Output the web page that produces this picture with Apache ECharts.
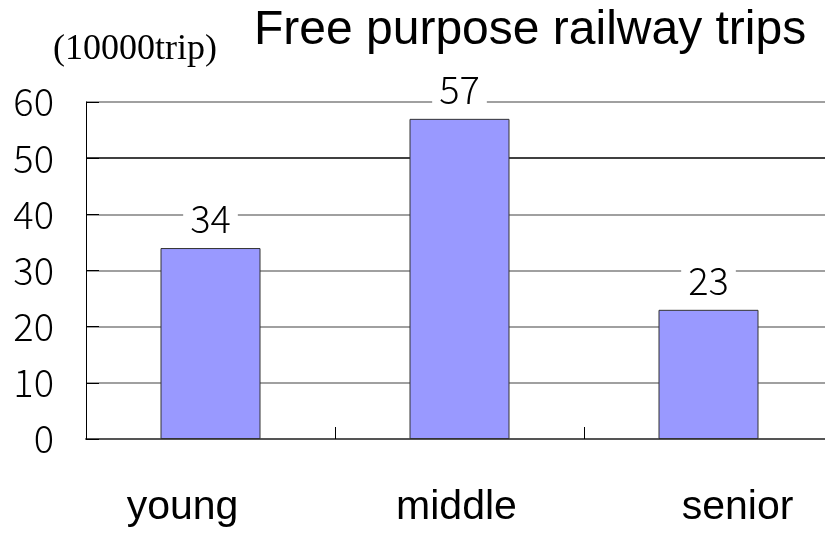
<!DOCTYPE html>
<html>
<head>
<meta charset="utf-8">
<script src="https://cdn.jsdelivr.net/npm/echarts@6/dist/echarts.min.js"></script>
<style>
  html, body { margin: 0; padding: 0; background: #ffffff; overflow: hidden; }
  /* the plot area runs slightly past the right edge of the window */
  #chart { width: 833px; height: 535px; }
</style>
</head>
<body>
<div id="chart"></div>
<script>
// Trips made by rail for free purposes, by age group (unit: 10,000 trips)
const categories = ['young', 'middle', 'senior'];
const trips = [34, 57, 23];
const yTicks = [0, 10, 20, 30, 40, 50, 60];

const titleText = 'Free purpose railway trips';
const unitText = '(10000trip)';

// per-category horizontal nudge of the group label (px, negative = left)
const labelShift = [-28, -3, 29];

const gothic = '"Noto Sans CJK JP", "Noto Sans", sans-serif';
const gridColors = yTicks.map(v => (v === 50 ? '#000000' : '#808080'));

const chart = echarts.init(document.getElementById('chart'), null, { renderer: 'canvas' });

chart.setOption({
  animation: false,
  backgroundColor: '#ffffff',
  title: [
    {
      text: titleText,
      left: 249,
      top: 2,
      textStyle: { fontFamily: '"Liberation Sans", Arial, sans-serif', fontSize: 48, fontWeight: 'normal', color: '#000000' }
    },
    {
      text: unitText,
      left: 48,
      top: 27,
      textStyle: { fontFamily: '"Liberation Serif", "Times New Roman", serif', fontSize: 36, fontWeight: 'normal', color: '#000000' }
    }
  ],
  grid: { left: 86, right: 0, top: 102, bottom: 96, containLabel: false },
  xAxis: {
    type: 'category',
    data: categories.map((c, i) => ({
      value: c,
      textStyle: {
        padding: labelShift[i] < 0 ? [0, -2 * labelShift[i], 0, 0] : [0, 0, 0, 2 * labelShift[i]]
      }
    })),
    boundaryGap: true,
    axisLine: { show: true, lineStyle: { color: '#555555', width: 2 } },
    axisTick: { show: true, inside: true, length: 12, lineStyle: { color: '#000000', width: 1 } },
    axisLabel: {
      margin: 48,
      fontFamily: '"Liberation Sans", Arial, sans-serif',
      fontSize: 41,
      color: '#000000'
    },
    splitLine: { show: false }
  },
  yAxis: {
    type: 'value',
    min: 0,
    max: 60,
    interval: 10,
    axisLine: { show: true, lineStyle: { color: '#000000', width: 1 } },
    axisTick: { show: true, inside: true, length: 13, lineStyle: { color: '#000000', width: 1 } },
    axisLabel: {
      margin: 32,
      fontFamily: gothic,
      fontSize: 38,
      fontWeight: 300,
      color: '#000000'
    },
    splitLine: { show: true, lineStyle: { color: gridColors, width: 1.5 } }
  },
  series: [
    {
      type: 'bar',
      data: trips,
      barWidth: 100,
      itemStyle: { color: '#9999ff', borderColor: '#333333', borderWidth: 1 },
      label: {
        show: true,
        position: 'top',
        distance: 10,
        fontFamily: gothic,
        fontSize: 38,
        fontWeight: 300,
        color: '#000000',
        backgroundColor: '#ffffff',
        padding: [0, 7, 0, 7]
      }
    }
  ]
});
</script>
</body>
</html>
